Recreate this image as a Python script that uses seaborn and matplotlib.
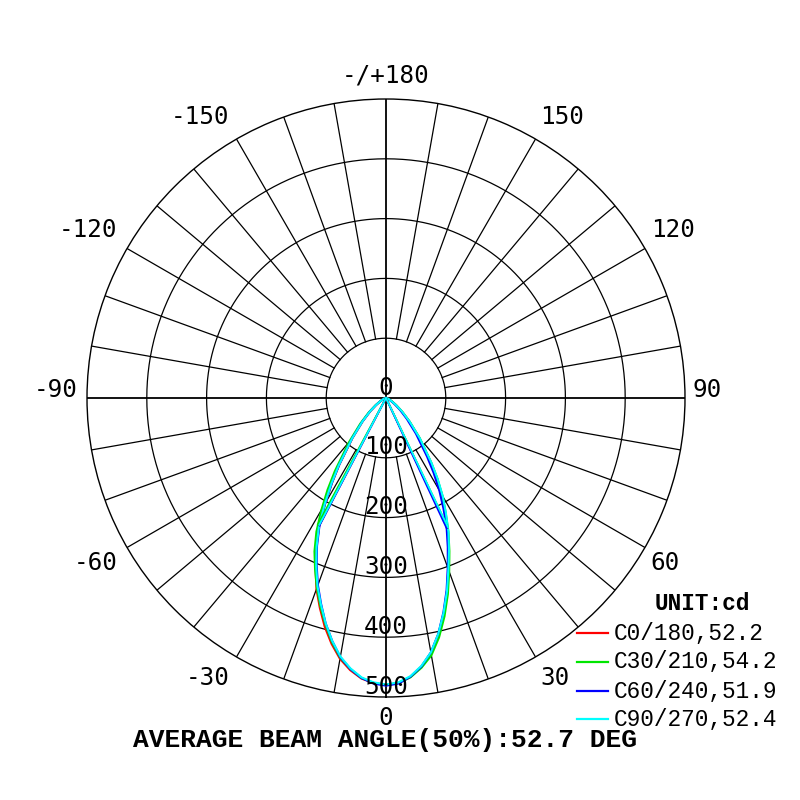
import numpy as np
import pandas as pd
import seaborn as sns
import matplotlib.pyplot as plt
from matplotlib.lines import Line2D

# gamma angles (deg) and luminous intensity (cd) for each C-plane half
gamma = [0, 2.5, 5, 7.5, 10, 12.5, 15, 17.5, 20, 22.5, 25, 27.5, 30,
         32.5, 35, 40, 45, 50, 55, 60, 70, 80, 90]

# right-hand halves (C0, C30, C60, C90)
c0 = [480, 477, 468, 453, 433, 405, 373, 339, 305, 274, 245, 214, 187,
      158, 130, 86, 55, 34, 20, 11, 4, 1, 0]
c30 = [480, 477, 469, 455, 437, 410, 378, 344, 309, 277, 247, 216, 189,
       160, 132, 88, 56, 35, 21, 12, 4, 1, 0]
c60 = [481, 478, 468, 453, 432, 404, 371, 337, 302, 270, 240, 208, 178,
       148, 120, 78, 49, 30, 17, 9, 3, 1, 0]
c90 = [479, 476, 467, 452, 432, 404, 372, 339, 305, 275, 247, 217, 190,
       161, 133, 88, 56, 35, 20, 11, 4, 1, 0]
# left-hand halves (C180, C210, C240, C270)
c180 = [480, 477, 471, 459, 443, 421, 396, 368, 340, 308, 276, 242, 204,
        168, 136, 87, 55, 34, 20, 11, 4, 1, 0]
c210 = [480, 477, 470, 457, 441, 418, 392, 365, 338, 310, 283, 252, 216,
        182, 149, 96, 61, 38, 22, 12, 4, 1, 0]
c240 = [481, 478, 470, 457, 440, 416, 390, 361, 333, 303, 273, 241, 203,
        168, 137, 88, 56, 35, 20, 11, 4, 1, 0]
c270 = [479, 476, 469, 456, 439, 416, 390, 362, 335, 305, 275, 243, 205,
        170, 138, 88, 56, 35, 20, 11, 4, 1, 0]

planes = ["C0/180", "C30/210", "C60/240", "C90/270"]
right_side = [c0, c30, c60, c90]
left_side = [c180, c210, c240, c270]
beam_angles = [52.2, 54.2, 51.9, 52.4]
avg_beam = 52.7
colors = ["#ff0000", "#00e600", "#0000ff", "#00ffff"]

ring_values = [0, 100, 200, 300, 400, 500]
angle_labels = ["-/+180", "-150", "150", "-120", "120", "-90", "90",
                "-60", "60", "-30", "30", "0"]
# label placement (theta deg, r in cd units)
label_theta = [180, -146.5, 147.9, -119.4, 120.3, -91.4, 91.4,
               -60.4, 59.4, -32.4, 31.1, 0]
label_r = [540, 563, 554, 572, 556, 553, 537, 559, 542, 555, 547, 535]

# long-form table: each curve runs from the left half through 0 to the right half
rows = []
for name, left, right in zip(planes, left_side, right_side):
    th = [-g for g in gamma[::-1]] + gamma[1:]
    cd = left[::-1] + right[1:]
    for i, (t, v) in enumerate(zip(th, cd)):
        rows.append({"plane": name, "theta": np.deg2rad(t), "cd": v, "order": i})
df = pd.DataFrame(rows)

fig = plt.figure(figsize=(8, 8), dpi=100)
ax = fig.add_axes([0.10875, 0.12875, 0.7475, 0.7475], projection="polar")
ax.set_theta_zero_location("S")
ax.set_theta_direction(1)

# grid: rings and spokes
full = np.linspace(0, 2 * np.pi, 361)
for rv in ring_values[1:-1]:
    ax.plot(full, [rv] * len(full), color="black", lw=0.9, zorder=1)
for a in range(0, 360, 10):
    if a % 90 == 0:
        continue
    ax.plot([np.deg2rad(a)] * 2, [100, 500], color="black", lw=0.9, zorder=1)
for a in (0, 90, 180, 270):
    ax.plot([np.deg2rad(a)] * 2, [0, 500], color="black", lw=1.3, zorder=1)

sns.lineplot(data=df, x="theta", y="cd", hue="plane", palette=colors,
             sort=False, estimator=None, legend=False, linewidth=1.5,
             ax=ax, zorder=3)

# beam angle (50%) lines: from the centre to where each half falls to half peak
for ba, col, left, right in zip(beam_angles, colors, left_side, right_side):
    for s, half_curve in ((-1, left), (1, right)):
        half_val = half_curve[0] / 2
        g50 = np.interp(half_val, half_curve[::-1], gamma[::-1])
        th = np.deg2rad(s * g50)
        ax.plot([th, th], [0, half_val], color=col, lw=1.3, zorder=3)

ax.set_rlim(0, 500)
ax.set_xticks([])
ax.set_yticks([])
ax.grid(False)
ax.set_xlabel("")
ax.set_ylabel("")
ax.spines["polar"].set_color("black")
ax.spines["polar"].set_linewidth(1.0)

lab_font = dict(family="DejaVu Sans Mono", size=17.5, color="black")
for rv in ring_values:
    ax.annotate(str(rv), xy=(0, rv), xytext=(0, 7.5), textcoords="offset points",
                ha="center", va="center", zorder=5, **lab_font)
for txt, t, r in zip(angle_labels, label_theta, label_r):
    ax.text(np.deg2rad(t), r, txt, ha="center", va="center", clip_on=False, **lab_font)

mono_bold = dict(family="Liberation Mono", weight="bold", color="black")
fig.text(385 / 800, 1 - 740 / 800, "AVERAGE BEAM ANGLE(50%%):%.1f DEG" % avg_beam,
         ha="center", va="center", size=18.9, **mono_bold)

# legend drawn in figure pixels
fig.text(702 / 800, 1 - 604 / 800, "UNIT:cd", ha="center", va="center", size=16.4, **mono_bold)
ys = [633, 662, 691, 719]
for name, ba, col, y in zip(planes, beam_angles, colors, ys):
    fig.add_artist(Line2D([577 / 800, 608 / 800], [1 - y / 800] * 2, color=col, lw=1.6))
    fig.text(614 / 800, 1 - y / 800, "%s,%.1f" % (name, ba), ha="left", va="center",
             size=16.4, family="Liberation Mono", color="black")

fig.savefig("out.png", dpi=100, facecolor="white")
